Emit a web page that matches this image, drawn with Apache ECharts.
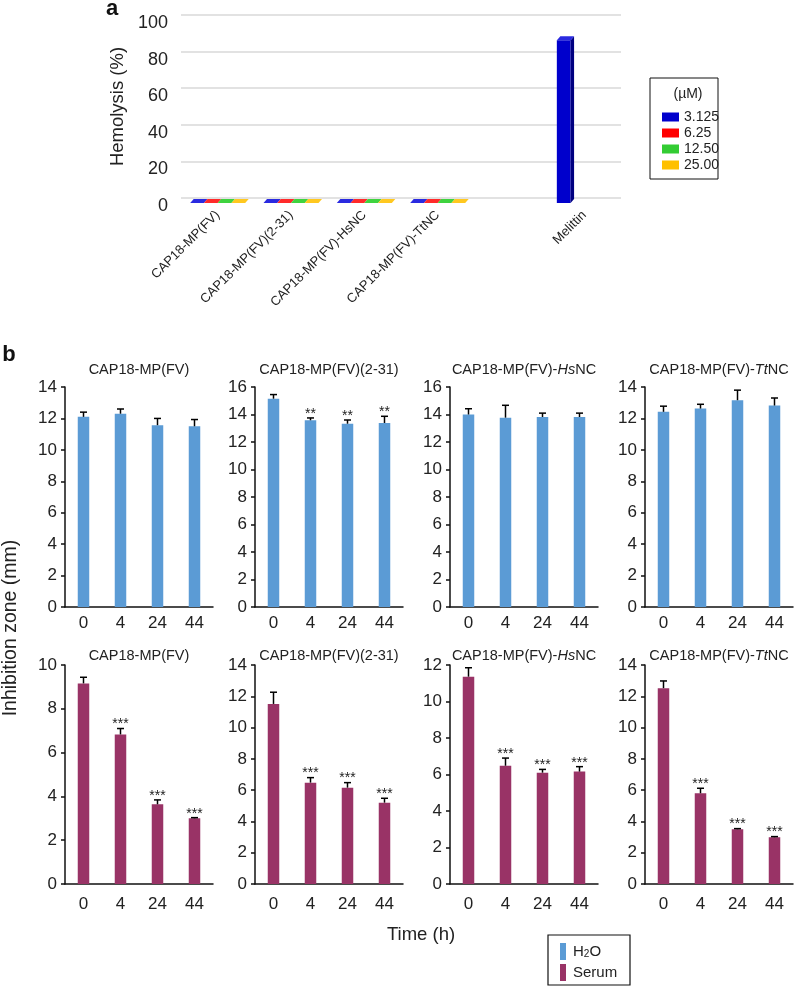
<!DOCTYPE html>
<html><head><meta charset="utf-8">
<script src="https://cdn.jsdelivr.net/npm/echarts@6/dist/echarts.min.js"></script>
<style>html,body{margin:0;padding:0;background:#fff}#c{width:796px;height:989px}</style>
</head><body><div id="c"></div>
<script>
// ---------- Panel a data ----------
const hemoCategories = ['CAP18-MP(FV)', 'CAP18-MP(FV)(2-31)', 'CAP18-MP(FV)-HsNC', 'CAP18-MP(FV)-TtNC', '', 'Melittin'];
const hemoConcs = ['3.125', '6.25', '12.50', '25.00'];
const hemo3125 = [0, 0, 0, 0, null, 89];
const hemo625 = [0, 0, 0, 0, null, null];
const hemo1250 = [0, 0, 0, 0, null, null];
const hemo2500 = [0, 0, 0, 0, null, null];

// ---------- Panel b data ----------
const times = ['0', '4', '24', '44'];
const peptideTitles = ['CAP18-MP(FV)', 'CAP18-MP(FV)(2-31)', 'CAP18-MP(FV)-{i|Hs}NC', 'CAP18-MP(FV)-{i|Tt}NC'];
const h2oMeans = [
  [12.1, 12.3, 11.57, 11.5],
  [15.15, 13.58, 13.33, 13.38],
  [14.0, 13.77, 13.82, 13.82],
  [12.42, 12.63, 13.16, 12.82]
];
const h2oErrs = [
  [0.3, 0.3, 0.43, 0.43],
  [0.3, 0.17, 0.27, 0.49],
  [0.42, 0.9, 0.28, 0.28],
  [0.36, 0.27, 0.64, 0.48]
];
const h2oStars = [
  ['', '', '', ''],
  ['', '**', '**', '**'],
  ['', '', '', ''],
  ['', '', '', '']
];
const serumMeans = [
  [9.16, 6.83, 3.64, 3.0],
  [11.51, 6.48, 6.16, 5.2],
  [11.36, 6.48, 6.1, 6.16],
  [12.52, 5.8, 3.5, 2.99]
];
const serumErrs = [
  [0.28, 0.27, 0.2, 0.03],
  [0.75, 0.32, 0.32, 0.28],
  [0.49, 0.42, 0.18, 0.27],
  [0.46, 0.32, 0.04, 0.04]
];
const serumStars = [
  ['', '***', '***', '***'],
  ['', '***', '***', '***'],
  ['', '***', '***', '***'],
  ['', '***', '***', '***']
];
const h2oYMax = [14, 16, 16, 14];
const serumYMax = [10, 14, 12, 14];

// ---------- styling ----------
const FONT = '"Liberation Sans", Arial, sans-serif';
const TXT = '#222';
const hemoColors = [
  { front: '#0000cc', side: '#000080', top: '#2a2ae0' },
  { front: '#ff0000', side: '#b00000', top: '#ff2a2a' },
  { front: '#33cc33', side: '#208a20', top: '#3fd33f' },
  { front: '#ffc000', side: '#c89400', top: '#ffc820' }
];
const h2oColor = '#5b9bd5';
const serumColor = '#993366';

const chart = echarts.init(document.getElementById('c'), null, { renderer: 'canvas' });

function hemoRender(k) {
  const col = hemoColors[k];
  return function (params, api) {
    const ci = api.value(0), v = api.value(1);
    const bandW = api.size([1, 0])[0];
    const c0 = api.coord([ci, 0]);
    const cv = api.coord([ci, v]);
    const w = bandW * 0.1875;
    const x0 = c0[0] - 2 * w + k * w;
    const x1 = x0 + w;
    const D = 5, dx = 3.5, dy = 4;
    const yb = c0[1] + D, yt = cv[1] + D;
    const children = [];
    if (yb - yt > 0.5) {
      children.push({ type: 'rect', shape: { x: x0, y: yt, width: w, height: yb - yt }, style: { fill: col.front } });
      children.push({ type: 'polygon', shape: { points: [[x1, yb], [x1 + dx, yb - dy], [x1 + dx, yt - dy], [x1, yt]] }, style: { fill: col.side } });
    }
    children.push({ type: 'polygon', shape: { points: [[x0, yt], [x1, yt], [x1 + dx, yt - dy], [x0 + dx, yt - dy]] }, style: { fill: col.top } });
    return { type: 'group', children };
  };
}

function errRender(stars) {
  return function (params, api) {
    const i = api.value(0), m = api.value(1), e = api.value(2);
    const base = api.coord([i, m]);
    const top = api.coord([i, m + e]);
    const children = [
      { type: 'line', shape: { x1: base[0], y1: base[1], x2: top[0], y2: top[1] }, style: { stroke: '#000', lineWidth: 1.5 } },
      { type: 'line', shape: { x1: top[0] - 3.5, y1: top[1], x2: top[0] + 3.5, y2: top[1] }, style: { stroke: '#000', lineWidth: 1.5 } }
    ];
    const s = stars[params.dataIndex];
    if (s) {
      children.push({ type: 'text', style: { text: s, x: top[0], y: top[1] - 4, align: 'center', verticalAlign: 'middle', fill: '#222', font: '14px ' + FONT } });
    }
    return { type: 'group', children };
  };
}

const grids = [], xAxes = [], yAxes = [], series = [], graphics = [];

// Panel a grid
grids.push({ left: 181, right: 175, top: 15, height: 183 });
xAxes.push({
  gridIndex: 0, type: 'category', data: hemoCategories,
  axisLine: { show: false }, axisTick: { show: false },
  axisLabel: { interval: 0, rotate: 45, fontSize: 13, color: TXT, margin: 15, fontFamily: FONT }
});
yAxes.push({
  gridIndex: 0, type: 'value', min: 0, max: 100, interval: 20,
  name: 'Hemolysis (%)', nameLocation: 'middle', nameGap: 53,
  nameTextStyle: { fontSize: 18.5, color: TXT, fontFamily: FONT },
  axisLine: { show: false }, axisTick: { show: false },
  splitLine: { lineStyle: { color: '#d9d9d9', width: 1.5 } },
  axisLabel: { fontSize: 18, color: TXT, margin: 13, verticalAlign: 'top', lineHeight: 16, fontFamily: FONT }
});
const hemoSets = [hemo3125, hemo625, hemo1250, hemo2500];
hemoSets.forEach((arr, k) => {
  const data = [];
  arr.forEach((v, i) => { if (v !== null) data.push([i, v]); });
  series.push({
    type: 'custom', name: hemoConcs[k], xAxisIndex: 0, yAxisIndex: 0,
    itemStyle: { color: hemoColors[k].front },
    renderItem: hemoRender(k), data, z: 3
  });
});

// Panel b grids
const bLefts = [65, 255, 450, 645];
const rowTops = [387, 665];
const rowHeights = [220, 219];
for (let r = 0; r < 2; r++) {
  for (let p = 0; p < 4; p++) {
    const gi = grids.length;
    grids.push({ left: bLefts[p], width: 148, top: rowTops[r], height: rowHeights[r] });
    const axisStyle = { color: '#111', width: 1.5 };
    xAxes.push({
      gridIndex: gi, type: 'category', data: times,
      axisLine: { lineStyle: axisStyle }, axisTick: { length: 5, lineStyle: axisStyle },
      axisLabel: { fontSize: 17, color: TXT, margin: r ? 12 : 8, fontFamily: FONT }
    });
    yAxes.push({
      gridIndex: gi, type: 'value', min: 0, max: r ? serumYMax[p] : h2oYMax[p], interval: 2,
      axisLine: { show: true, lineStyle: axisStyle }, axisTick: { show: true, length: 4, lineStyle: axisStyle },
      splitLine: { show: false },
      axisLabel: { fontSize: 17, color: TXT, margin: 8, fontFamily: FONT }
    });
    const means = r ? serumMeans[p] : h2oMeans[p];
    const errs = r ? serumErrs[p] : h2oErrs[p];
    const stars = r ? serumStars[p] : h2oStars[p];
    series.push({
      type: 'bar', name: r ? 'Serum' : 'H2O', xAxisIndex: gi, yAxisIndex: gi,
      data: means, barWidth: 11.5, itemStyle: { color: r ? serumColor : h2oColor }, z: 2
    });
    series.push({
      type: 'custom', xAxisIndex: gi, yAxisIndex: gi, z: 3,
      data: means.map((m, i) => [i, m, errs[i]]),
      renderItem: errRender(stars)
    });
    graphics.push({
      type: 'text', x: bLefts[p] + 74, y: r ? 656 : 370,
      style: {
        text: peptideTitles[p], align: 'center', verticalAlign: 'middle', fill: TXT,
        font: '14.5px ' + FONT,
        rich: { i: { fontStyle: 'italic', fontSize: 14.5, fontFamily: FONT, fill: TXT } }
      }
    });
  }
}

// Labels and legend boxes
graphics.push(
  { type: 'text', x: 112, y: 9, style: { text: 'a', align: 'center', verticalAlign: 'middle', fill: '#111', font: 'bold 22px ' + FONT } },
  { type: 'text', x: 9, y: 355, style: { text: 'b', align: 'center', verticalAlign: 'middle', fill: '#111', font: 'bold 22px ' + FONT } },
  { type: 'text', x: 11, y: 628, rotation: Math.PI / 2, style: { text: 'Inhibition zone (mm)', align: 'center', verticalAlign: 'middle', fill: TXT, font: '19.5px ' + FONT } },
  { type: 'text', x: 421, y: 935, style: { text: 'Time (h)', align: 'center', verticalAlign: 'middle', fill: TXT, font: '18.5px ' + FONT } },
  { type: 'rect', shape: { x: 650, y: 78, width: 68, height: 101 }, style: { fill: 'none', stroke: '#111', lineWidth: 1 } },
  { type: 'text', x: 688, y: 94, style: { text: '(µM)', align: 'center', verticalAlign: 'middle', fill: TXT, font: '14px ' + FONT } },
  { type: 'rect', shape: { x: 548, y: 935, width: 82, height: 50 }, style: { fill: 'none', stroke: '#111', lineWidth: 1.2 } }
);

const option = {
  animation: false,
  backgroundColor: '#fff',
  textStyle: { fontFamily: FONT },
  grid: grids, xAxis: xAxes, yAxis: yAxes, series,
  legend: [
    {
      data: hemoConcs, orient: 'vertical', left: 657, top: 105, icon: 'rect',
      itemWidth: 17, itemHeight: 9, itemGap: 2, selectedMode: false,
      textStyle: { fontSize: 14, color: TXT, fontFamily: FONT }
    },
    {
      data: ['H2O', 'Serum'], orient: 'vertical', left: 555, top: 938, icon: 'rect',
      itemWidth: 6, itemHeight: 17, itemGap: 4, selectedMode: false,
      formatter: n => n === 'H2O' ? '{a|H}{s|2}{a|O}' : '{a|' + n + '}',
      textStyle: {
        fontSize: 15, color: TXT, fontFamily: FONT,
        rich: {
          a: { fontSize: 15, color: TXT, fontFamily: FONT },
          s: { fontSize: 10, color: TXT, fontFamily: FONT, padding: [6, 0, 0, 0] }
        },
        padding: [0, 0, 0, 2]
      }
    }
  ],
  graphic: graphics
};
chart.setOption(option);
</script>
</body></html>
